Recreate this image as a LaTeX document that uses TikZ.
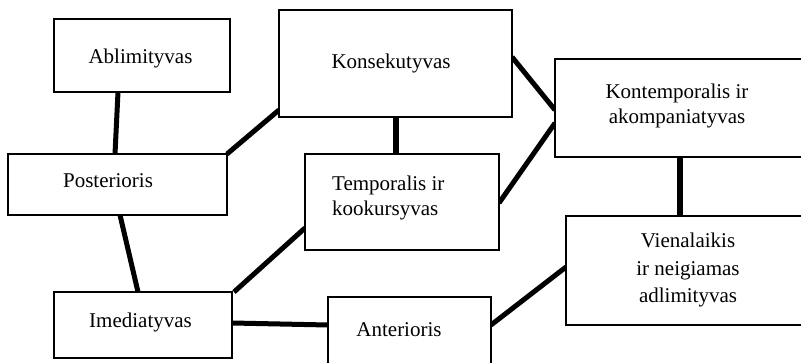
\documentclass[tikz,border=0pt]{standalone}
\usepackage{fontspec}
\setmainfont{Liberation Serif}
\usetikzlibrary{calc,backgrounds}
\begin{document}
\begin{tikzpicture}[x=1pt,y=-1pt,
  box/.style={draw,line width=1.8pt,inner sep=0pt,outer sep=0pt,fill=white},
  txt/.style={inner sep=0pt,font=\fontsize{21}{25}\selectfont},
  link/.style={line width=5pt}]
\useasboundingbox (0,0) rectangle (801,363);
\clip (0,0) rectangle (801,363);
% boxes
\node[box,minimum width=176pt,minimum height=73pt] (abl) at (142,55.5) {};
\node[box,minimum width=233pt,minimum height=107pt] (kons) at (395.5,63.5) {};
\node[box,minimum width=248pt,minimum height=98pt] (kont) at (679,108) {};
\node[box,minimum width=219pt,minimum height=61pt] (post) at (117.5,184.5) {};
\node[box,minimum width=194pt,minimum height=96pt] (temp) at (402,202) {};
\node[box,minimum width=178pt,minimum height=66pt] (imed) at (143,325) {};
\node[box,minimum width=163pt,minimum height=69pt] (ant) at (409.5,331.5) {};
\node[box,minimum width=237pt,minimum height=109pt] (vien) at (684.5,270.5) {};
% texts
\node[txt,anchor=base] (tabl) at (140.5,63.3) {Ablimityvas};
\node[txt,anchor=base] (tkons) at (391,68.3) {Konsekutyvas};
\node[txt,anchor=north,align=center] (tkont) at (677,84) {Kontemporalis ir\\akompaniatyvas};
\node[txt,anchor=base] (tpost) at (108,188) {Posterioris};
\node[txt,anchor=north west,align=left] (ttemp) at (332,176) {Temporalis ir\\kookursyvas};
\node[txt,anchor=base] (timed) at (140.5,328) {Imediatyvas};
\node[txt,anchor=base] (tant) at (399,337) {Anterioris};
\node[txt,anchor=north,align=center,font=\fontsize{21}{27.5}\selectfont] (tvien) at (688,233) {Vienalaikis\\ir neigiamas\\adlimityvas};
% connectors
\begin{pgfonlayer}{background}
\fill[white] (0,0) rectangle (801,363);
\draw[link] ($(abl.south west)+(64,0)$) -- ($(post.north west)+(107,0)$);
\draw[link] ($(kons.south west)+(0,-7)$) -- (post.north east);
\draw[link,line width=6.5pt] ($(kons.south west)+(117,0)$) -- ($(temp.north west)+(91,0)$);
\draw[link] ($(kons.north east)+(0,47)$) -- ($(kont.north west)+(0,51)$);
\draw[link] ($(temp.north east)+(0,49)$) -- ($(kont.north west)+(0,64)$);
\draw[link,line width=6pt] ($(kont.south west)+(125,0)$) -- ($(vien.north west)+(114,0)$);
\draw[link] ($(post.south west)+(112,0)$) -- ($(imed.north west)+(84,0)$);
\draw[link] ($(imed.north east)+(2,0)$) -- ($(temp.north west)+(0,74)$);
\draw[link] ($(imed.north east)+(0,31)$) -- ($(ant.north west)+(0,28)$);
\draw[link] ($(ant.north east)+(0,28)$) -- ($(vien.north west)+(0,51)$);
\end{pgfonlayer}
\end{tikzpicture}
\end{document}
